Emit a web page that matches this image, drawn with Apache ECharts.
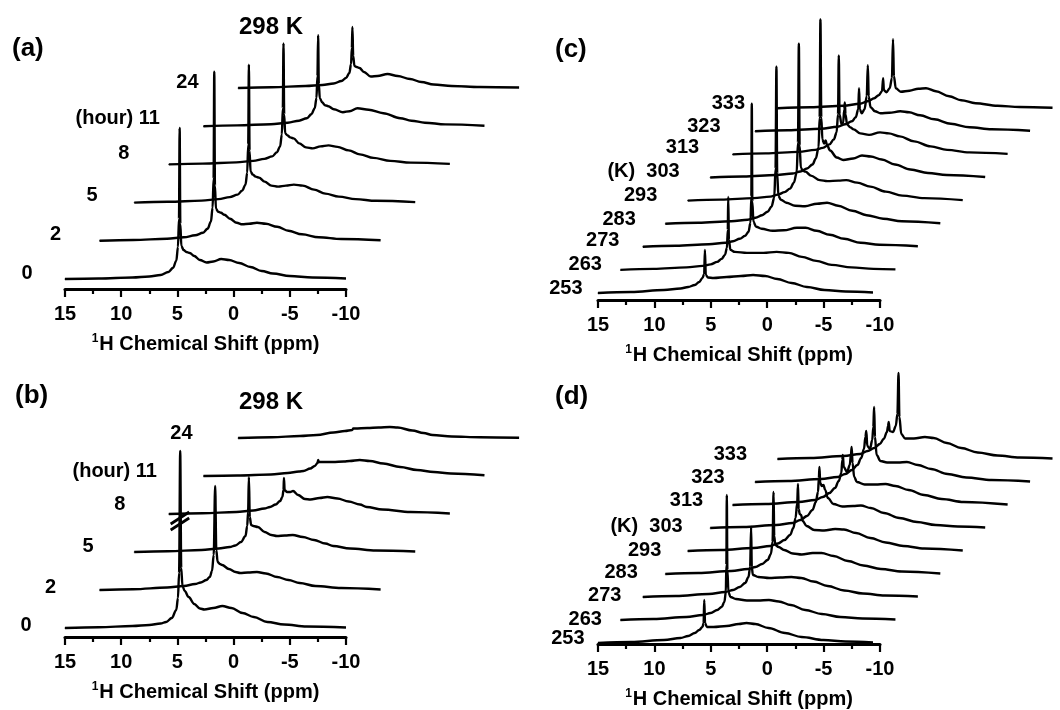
<!DOCTYPE html>
<html><head><meta charset="utf-8">
<script src="https://cdn.jsdelivr.net/npm/echarts@6.0.0/dist/echarts.min.js"></script>
<style>html,body{margin:0;padding:0;background:#fff}#chart{width:1060px;height:710px}</style>
</head><body><div id="chart"></div>
<script>
// ---------- data ----------
const ppmTicks = [15, 10, 5, 0, -5, -10];
const hourLabels = ['0', '2', '5', '8', '(hour) 11', '24'];
const tempLabels = ['253', '263', '273', '283', '293', '(K)  303', '313', '323', '333'];
const panelTitles = ['(a)', '(b)', '(c)', '(d)'];
const tempTitle = '298 K';

// spectra: [chemical shift (ppm), intensity (a.u.)]
// panel (a)
const specA_0h = [[15,0],[12,0.5],[9,1.5],[7.5,2.5],[6.5,4],[5.8,7],[5.4,11],[5.1,18],[4.95,32],[4.86,60],[4.8,151],[4.74,55],[4.65,33],[4.45,29],[4.2,27],[3.9,26],[3.5,23],[3.0,19],[2.4,16.5],[1.8,17.5],[1.1,20],[0.4,19],[-0.5,16],[-1.5,12],[-2.5,8],[-3.5,5.5],[-5,3],[-7,1.5],[-10,0.5]];
const specA_2h = [[15,0],[12,0.8],[9,2],[7.5,3.5],[6.5,5.5],[5.8,8],[5.4,12],[5.1,19],[4.95,33],[4.86,62],[4.8,169],[4.74,55],[4.65,32],[4.45,29],[4.2,28],[3.9,26],[3.4,22],[2.8,18],[2.3,16.5],[1.7,17],[1.0,18],[0.2,17],[-0.8,14],[-1.8,10],[-3,6.5],[-4.5,3.5],[-6.5,1.8],[-10,0.5]];
const specA_5h = [[15,0],[12,0.8],[9,2],[7.5,3.5],[6.5,5.5],[5.8,8],[5.4,12],[5.1,18],[4.95,30],[4.86,58],[4.8,138],[4.74,52],[4.65,31],[4.45,28],[4.2,26],[3.9,25],[3.4,21],[2.8,17],[2.2,16],[1.5,17],[0.8,18],[0,17],[-1,13],[-2,9],[-3.2,6],[-4.7,3.5],[-6.5,1.8],[-10,0.5]];
const specA_8h = [[15,0],[12,0.8],[9,2],[7.5,3.5],[6.5,5.5],[5.8,8],[5.4,12],[5.1,18],[4.95,30],[4.86,56],[4.8,121],[4.74,50],[4.65,31],[4.45,29],[4.2,27],[3.9,26],[3.4,21],[2.8,17],[2.2,16],[1.5,18],[0.8,19],[0,17.5],[-1,14],[-2,10],[-3.2,6.5],[-4.7,3.5],[-6.5,1.8],[-10,0.5]];
const specA_11h = [[15,0],[12,0.8],[9,2],[7.5,3.5],[6.5,5.5],[5.8,8],[5.4,12],[5.1,18],[4.95,28],[4.86,50],[4.8,91],[4.74,42],[4.65,28],[4.45,24],[4.2,21],[3.9,20],[3.4,17],[2.6,14],[2.0,15],[1.3,18],[0.3,16.5],[-1,13],[-2.5,8],[-3.5,5.5],[-4.7,3.5],[-6.5,1.8],[-10,0.5]];
const specA_24h = [[15,0],[12,0.8],[9,2],[7.5,3],[6.5,4.5],[5.8,7],[5.4,10],[5.1,15],[4.95,24],[4.88,40],[4.83,61],[4.76,32],[4.65,22],[4.45,21],[4.2,20],[3.8,16],[3.2,11.5],[2.6,12],[1.7,14],[0.8,12],[-0.3,9],[-1.3,6],[-2.4,3.5],[-4,2],[-6.5,1],[-10,0.5]];
// panel (b)
const specB_0h = [[15,0],[12,0.8],[9,2],[7.5,3],[6.5,4.5],[6.0,6],[5.5,10],[5.1,18],[4.95,30],[4.85,55],[4.75,177],[4.66,60],[4.55,42],[4.35,37],[4.0,31],[3.5,24],[3.0,19.5],[2.6,18.5],[1.8,20],[1.0,22],[0.2,20],[-0.8,15],[-1.8,11],[-3,6],[-4.5,3.5],[-6.5,1.5],[-10,0.5]];
const specB_2h = [[15,0],[12,0.8],[9,2.5],[7.5,4],[6.5,6],[6.0,7.5],[5.5,10],[5.2,13],[5.0,19],[4.85,35],[4.72,104],[4.62,40],[4.5,28],[4.3,26],[4.1,25],[3.5,21],[2.9,18],[2.5,17],[1.8,17.5],[1.0,18],[0.2,16.5],[-0.8,13],[-1.8,10],[-2.8,7],[-4.2,4],[-6.5,2],[-10,0.5]];
const specB_5h = [[15,0],[12,0.8],[9,2],[7.5,3.5],[6.5,5],[6.0,6.5],[5.5,10],[5.1,16],[4.95,26],[4.87,40],[4.8,75],[4.72,35],[4.6,27],[4.4,26],[4.0,25],[3.4,20],[2.8,17],[2.3,16],[1.6,16.5],[0.9,17],[0,15],[-1,12],[-2,8.5],[-2.7,6],[-4.2,3.5],[-6.5,1.5],[-10,0.5]];
const specB_8h = [[15,0],[12,0.8],[9,2],[7.5,3.5],[6.5,5.5],[6.0,7],[5.5,9.5],[5.1,13],[4.9,17],[4.8,24],[4.76,36],[4.7,24],[4.5,22],[4.2,22],[3.95,23],[3.5,19],[2.9,15],[2.4,14.5],[1.6,16],[0.9,17],[0,15.5],[-1,12.5],[-2,9.5],[-2.6,7],[-4,4.5],[-6.5,2],[-10,0.5]];
const specB_11h = [[15,0],[12,0.5],[9,1.5],[7.5,3],[6.5,4.5],[6.1,5],[5.5,7.5],[5.1,10],[4.85,13],[4.8,16],[4.72,14],[4.5,14],[3.5,14],[2.5,14.5],[2,15],[1.1,16],[0.2,15],[-1,12.5],[-2.5,9],[-4,6],[-5.5,4],[-7,2.5],[-10,0.8]];
const specB_24h = [[15,0],[12,0.8],[9.5,2],[8,3],[6.5,5.5],[5.5,7],[4.85,8],[4.75,9.5],[4.6,9.5],[3.5,10],[2.5,10.5],[1.5,11],[0.8,10.5],[-0.5,7.5],[-1.5,5],[-2.3,3],[-4,1.5],[-6.5,0.8],[-10,0.3]];
const breakMarkB = [[[5.6, 98], [3.95, 110]], [[5.6, 104], [3.95, 116]]];
// panel (c)
const specC_253 = [[15,0],[12,1],[9,3],[7.5,4.5],[6.8,6],[6.2,8],[5.8,11],[5.5,15],[5.35,19],[5.28,43],[5.2,18],[5.0,15.5],[4.5,15],[3.3,16],[2,17],[0.9,18],[-0.2,17],[-1.3,14],[-2.6,10],[-4,6],[-5.6,3],[-7.5,1.5],[-10,0.5]];
const specC_263 = [[15,0],[12,1],[9,2.5],[7.5,4],[6.8,5.5],[6.2,8],[5.8,11],[5.5,15],[5.32,22],[5.24,40],[5.2,73],[5.14,30],[5.0,20],[4.6,18],[3.5,17],[2,17],[0.8,18],[-0.3,17],[-1.5,13],[-2.8,9],[-4.2,5],[-6,2.5],[-8,1],[-10,0.5]];
const specC_273 = [[15,0],[12,1],[9,2.5],[7.5,4],[6.8,5.5],[6.2,8],[5.7,11],[5.4,15],[5.22,24],[5.14,50],[5.1,143],[5.05,45],[4.95,25],[4.7,20],[4.2,18],[3.2,16],[2.2,16.5],[1,19],[0.2,19],[-0.8,16],[-2,12],[-3.3,8],[-4.8,4],[-6.5,2],[-10,0.5]];
const specC_283 = [[15,0],[12,1],[9,2.5],[7.5,4],[6.8,6],[6.2,8.5],[5.7,12],[5.35,17],[5.1,26],[4.98,55],[4.9,157],[4.83,50],[4.72,28],[4.5,24],[4.0,21],[3.2,18],[2.3,17.5],[1.2,20],[0.3,21],[-0.7,18],[-2,13],[-3.3,8.5],[-4.8,5],[-6.5,2.5],[-10,0.5]];
const specC_293 = [[15,0],[12,1],[9,2.5],[7.5,4],[6.8,6],[6.2,8.5],[5.7,12],[5.35,18],[5.1,28],[4.98,58],[4.9,157],[4.83,55],[4.72,33],[4.55,30],[4.3,29],[3.8,25],[3.0,20.5],[2.3,19.5],[1.3,20],[0.6,20.5],[-0.4,18],[-1.6,14],[-3,9],[-4.5,5],[-6.5,2.5],[-10,0.5]];
const specC_303 = [[15,0],[12,1],[9,2.5],[7.5,4],[6.8,6],[6.2,9],[5.7,13],[5.4,19],[5.15,30],[5.05,60],[4.98,158],[4.9,60],[4.8,38],[4.65,34],[4.5,37],[4.4,33],[4.1,27],[3.5,20],[2.9,17.5],[2,19],[1.2,22],[0.4,21],[-0.6,18],[-1.8,13],[-3.2,8],[-4.8,4.5],[-6.5,2.5],[-10,0.5]];
const specC_313 = [[15,0],[12,1],[9,2.5],[7.5,4.5],[6.8,6.5],[6.2,10],[5.8,15],[5.55,22],[5.42,40],[5.35,99],[5.28,40],[5.1,30],[4.95,32],[4.85,45],[4.8,52],[4.74,40],[4.6,30],[4.3,27],[4.0,25],[3.4,21],[2.6,19.5],[1.6,22],[0.8,21],[-0.2,18],[-1.5,13],[-3,8],[-4.5,4.5],[-6.5,2],[-10,0.5]];
const specC_323 = [[15,0],[12,1],[9,2.5],[7.5,4.5],[6.8,7],[6.2,10],[5.85,14],[5.62,22],[5.55,43],[5.48,22],[5.3,18],[5.05,22],[4.85,35],[4.75,66],[4.67,35],[4.5,24],[4.1,20],[3.6,18],[2.8,18.5],[1.8,20],[1,19],[0,16],[-1.3,12],[-2.8,7.5],[-4.5,4],[-6.5,2],[-10,0.5]];
const specC_333 = [[15,0],[12,1],[9,2.5],[7.5,4.5],[6.8,7],[6.2,10],[5.8,13],[5.5,17],[5.4,30],[5.33,18],[5.1,16],[4.8,20],[4.6,30],[4.5,69],[4.42,32],[4.25,20],[3.8,16.5],[3,17.5],[2.2,19.5],[1.5,20],[0.6,17],[-0.6,12],[-1.7,8],[-3,5],[-5,2.5],[-7,1.2],[-10,0.5]];
// panel (d)
const specD_253 = [[15,0],[12,1],[9,3],[7.5,5],[6.8,7],[6.2,10],[5.8,13],[5.5,16],[5.4,20],[5.34,43],[5.27,20],[5.1,16],[4.5,16],[3.3,17],[2.2,19],[1.5,20],[0.7,19],[-0.5,15],[-2,10],[-3.5,6],[-5.5,3],[-7.5,1.5],[-10,0.5]];
const specD_263 = [[15,0],[12,1],[9,3],[7.5,5],[6.8,7],[6.2,10],[5.8,13],[5.55,18],[5.42,28],[5.37,55],[5.33,125],[5.28,50],[5.18,28],[5.0,23],[4.5,21],[3.5,19.5],[2.5,19.5],[1.5,20],[0.6,18.5],[-0.5,15],[-1.8,10],[-3.3,6],[-5,3],[-7,1.5],[-10,0.5]];
const specD_273 = [[15,0],[12,1],[9,3],[7.5,5],[6.8,7],[6.2,10],[5.7,14],[5.4,20],[5.25,30],[5.16,70],[5.1,30],[5.0,22],[4.5,20],[3.5,19],[2.5,19.5],[1.5,20],[0.6,19],[-0.5,15.5],[-1.8,11],[-3.3,6.5],[-5,3.5],[-7,1.5],[-10,0.5]];
const specD_283 = [[15,0],[12,1],[9,3],[7.5,5],[6.8,7],[6.2,10],[5.7,14],[5.4,20],[5.25,32],[5.16,82],[5.1,38],[5.0,29],[4.7,27],[4.2,24],[3.4,20.5],[2.6,19.5],[1.6,21],[0.8,21],[-0.3,18],[-1.6,13],[-3,8.5],[-4.6,5],[-6.5,2.5],[-10,0.5]];
const specD_293 = [[15,0],[12,1],[9,3],[7.5,5],[6.8,7.5],[6.2,11],[5.7,16],[5.4,23],[5.2,33],[5.05,48],[4.98,67],[4.92,42],[4.82,37],[4.7,36],[4.55,30],[4.2,25],[3.5,21],[2.6,20.5],[1.6,22],[0.8,21.5],[-0.3,18],[-1.6,13],[-3,8.5],[-4.6,5],[-6.5,2.5],[-10,0.5]];
const specD_303 = [[15,0],[12,1],[9,3],[7.5,5],[6.8,8],[6.2,12],[5.7,18],[5.4,26],[5.2,36],[5.12,50],[5.07,61],[5.0,45],[4.85,42],[4.7,43],[4.55,38],[4.3,30],[3.8,24],[3.0,21.5],[2,22],[1.3,22.5],[0.4,20],[-0.8,15],[-2.2,10],[-3.8,6],[-5.5,3],[-7.5,1.5],[-10,0.5]];
const specD_313 = [[15,0],[12,1],[9,3],[7.5,5],[6.8,8],[6.2,12],[5.7,17],[5.35,24],[5.12,32],[5.03,45],[4.98,50],[4.9,38],[4.6,33],[4.35,40],[4.25,50],[4.18,58],[4.1,42],[3.95,28],[3.7,23],[3.0,20.5],[2.0,20.5],[1.1,21],[0.2,19],[-1,15],[-2.4,10],[-4,6],[-6,3],[-10,0.5]];
const specD_323 = [[15,0],[12,1],[9,3],[7.5,5],[6.8,8],[6.2,12],[5.7,17],[5.35,24],[5.1,33],[4.97,45],[4.89,51],[4.8,36],[4.55,33],[4.35,42],[4.25,55],[4.18,75],[4.1,45],[3.95,27],[3.6,21],[3.0,19.5],[2.0,19.5],[1.2,20],[0.2,17],[-1,13],[-2.5,8],[-4.2,4.5],[-6.5,2],[-10,0.5]];
const specD_333 = [[15,0],[12,1],[9,3],[7.5,5],[6.8,8],[6.2,11],[5.7,15],[5.35,20],[5.05,27],[4.95,33],[4.89,37],[4.8,28],[4.5,27],[4.25,33],[4.1,45],[4.0,86],[3.92,42],[3.75,25],[3.4,20.5],[2.6,20.5],[1.6,22],[0.8,21],[-0.4,16],[-1.7,11],[-3.2,6.5],[-5,3.5],[-7,1.5],[-10,0.5]];

const panelA = [specA_0h, specA_2h, specA_5h, specA_8h, specA_11h, specA_24h];
const panelB = [specB_0h, specB_2h, specB_5h, specB_8h, specB_11h, specB_24h];
const panelC = [specC_253, specC_263, specC_273, specC_283, specC_293, specC_303, specC_313, specC_323, specC_333];
const panelD = [specD_253, specD_263, specD_273, specD_283, specD_293, specD_303, specD_313, specD_323, specD_333];

// ---------- layout (stacked-plot offsets and positions) ----------
const FONT = '"Liberation Sans", Arial, Helvetica, sans-serif';
const layouts = [
  { traces: panelA, labels: hourLabels, left: 65, width: 281, axisY: 289, yMin: -10, top: 15, dx: 3.08, dy: 38.2, xEnd: -26,
    gaps: [32, 38, 36, 39, 43, 39], offs: [-6, -6, -7, -11, -8, -6] },
  { traces: panelB, labels: hourLabels, left: 65, width: 281, axisY: 637, yMin: -9, top: 370, dx: 3.08, dy: 38.0, xEnd: -26,
    gaps: [33, 43, 40, 43, 46, 45], offs: [-3, -3, -6, -10, -5, -5], breakMark: breakMarkB },
  { traces: panelC, labels: tempLabels, left: 598, width: 282, axisY: 300, yMin: -7, top: 8, dx: 2.04, dy: 23.1, xEnd: -27,
    gaps: [15, 18, 23, 29, 30, 30, 33, 34, 32], offs: [-5, -5, -6, -4, -5, -6, -7, -5, -5] },
  { traces: panelD, labels: tempLabels, left: 598, width: 282, axisY: 648, yMin: -5, top: 355, dx: 2.04, dy: 23.0, xEnd: -27,
    gaps: [13, 18, 21, 27, 26, 27, 29, 30, 30], offs: [-5, -1, -2, -2, -1, -2, -5, -5, -5] }
];

const grid = [], xAxis = [], yAxis = [], series = [];
const hi = ppmTicks[0], lo = ppmTicks[ppmTicks.length - 1];
const tickStep = ppmTicks[0] - ppmTicks[1];

layouts.forEach((L) => {
  const pxPerPpm = L.width / (hi - lo);
  // axis grid
  const gA = grid.length;
  grid.push({ left: L.left, width: L.width, top: L.axisY - 40, height: 40 });
  xAxis.push({
    gridIndex: gA, type: 'value', min: lo, max: hi, interval: tickStep, inverse: true,
    axisLine: { show: true, lineStyle: { color: '#000', width: 3 } },
    axisTick: { show: true, length: 8, lineStyle: { color: '#000', width: 2.2 } },
    minorTick: { show: true, splitNumber: 2, length: 5, lineStyle: { color: '#000', width: 2.2 } },
    splitLine: { show: false }, minorSplitLine: { show: false },
    axisLabel: { margin: 15, color: '#000', fontFamily: FONT, fontWeight: 'bold', fontSize: 20 },
    name: '{sup|1}{t|H Chemical Shift (ppm)}', nameLocation: 'middle', nameGap: 44,
    nameTextStyle: {
      color: '#000', fontFamily: FONT, fontWeight: 'bold', fontSize: 20,
      rich: {
        sup: { fontSize: 12, fontWeight: 'bold', fontFamily: FONT, color: '#000', verticalAlign: 'top', padding: [0, 1, 0, 0] },
        t: { fontSize: 20, fontWeight: 'bold', fontFamily: FONT, color: '#000', lineHeight: 22 }
      }
    }
  });
  yAxis.push({ gridIndex: gA, type: 'value', show: false, min: 0, max: 1 });
  // trace grid
  const gT = grid.length;
  grid.push({ left: L.left, width: (hi - L.xEnd) * pxPerPpm, top: L.top, height: L.axisY - L.top });
  xAxis.push({ gridIndex: gT, type: 'value', show: false, min: L.xEnd, max: hi, inverse: true });
  yAxis.push({ gridIndex: gT, type: 'value', show: false, min: L.yMin, max: L.yMin + (L.axisY - L.top) });

  L.traces.forEach((spec, k) => {
    const data = spec.map(([p, v]) => [p - k * L.dx, v + k * L.dy]);
    series.push({
      type: 'line', xAxisIndex: gT, yAxisIndex: gT, data, symbol: 'none',
      smooth: 0.35, smoothMonotone: 'x',
      lineStyle: { color: '#000', width: 2.4 }, silent: true, z: 3
    });
    series.push({
      type: 'scatter', xAxisIndex: gT, yAxisIndex: gT, data: [data[0]], symbolSize: 1,
      itemStyle: { color: '#000', opacity: 1 }, silent: true, z: 5,
      label: { show: true, position: 'left', distance: L.gaps[k], offset: [0, L.offs[k]],
        formatter: L.labels[k], color: '#000', opacity: 1, textBorderWidth: 0,
        fontFamily: FONT, fontWeight: 'bold', fontSize: 20 }
    });
  });
  if (L.breakMark) {
    L.breakMark.forEach((seg) => {
      series.push({ type: 'line', xAxisIndex: gT, yAxisIndex: gT, data: seg, symbol: 'none',
        lineStyle: { color: '#000', width: 2.8 }, silent: true, z: 4 });
    });
  }
});

const titleStyle = { color: '#000', fontFamily: FONT, fontWeight: 'bold', fontSize: 26 };
const title = [
  { text: panelTitles[0], left: 7, top: 31, textStyle: titleStyle },
  { text: panelTitles[1], left: 10, top: 378, textStyle: titleStyle },
  { text: panelTitles[2], left: 550, top: 32, textStyle: titleStyle },
  { text: panelTitles[3], left: 550, top: 379, textStyle: titleStyle },
  { text: tempTitle, left: 234, top: 10, textStyle: { ...titleStyle, fontSize: 24 } },
  { text: tempTitle, left: 234, top: 385, textStyle: { ...titleStyle, fontSize: 24 } }
];

const chart = echarts.init(document.getElementById('chart'), null, { renderer: 'canvas' });
chart.setOption({ animation: false, backgroundColor: '#fff', title, grid, xAxis, yAxis, series });
</script></body></html>
